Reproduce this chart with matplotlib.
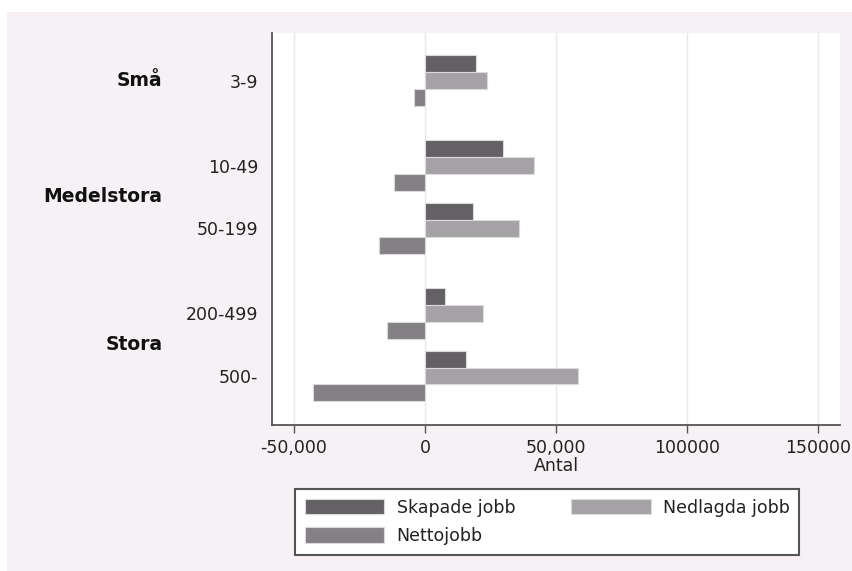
"""Skapade, nedlagda och nettojobb per storleksklass."""

import numpy as np
import matplotlib
matplotlib.use("Agg")
import matplotlib.pyplot as plt
from matplotlib.patches import Rectangle

plt.rcParams["font.family"] = ["DejaVu Sans"]

# ── data ──────────────────────────────────────────────────────────────────────
size_classes = ["3-9", "10-49", "50-199", "200-499", "500-"]
groups       = ["Små", "Medelstora", "Stora"]
group_of     = [0, 1, 1, 2, 2]
skapade      = [19500, 29600, 18200, 7500, 15600]
nedlagda     = [23800, 41600, 35900, 22000, 58400]
netto        = [-4300, -12000, -17700, -14500, -42800]

series_names  = ["Skapade jobb", "Nedlagda jobb", "Nettojobb"]
series_colors = ["#636164", "#a4a2a5", "#838184"]
x_ticks       = [-50000, 0, 50000, 100000, 150000]
x_ticklabels  = ["-50,000", "0", "50,000", "100000", "150000"]

BG = "#f5f1f5"

# category positions: extra space between groups
gap_in, gap_between = 1.0, 1.35
ypos = [0.0]
for i in range(1, len(size_classes)):
    step = gap_in if group_of[i] == group_of[i - 1] else gap_between
    ypos.append(ypos[-1] + step)
ypos = np.array(ypos)

fig = plt.figure(figsize=(8.52, 5.71), dpi=100, facecolor="white")
fig.patches.append(Rectangle((7 / 852, 0), 1, 1 - 12 / 571, transform=fig.transFigure,
                             facecolor=BG, edgecolor="none", zorder=-10))

ax = fig.add_axes([272 / 852, 1 - 425 / 571, (840 - 272) / 852, (425 - 33) / 571])
ax.set_facecolor("white")

h = 0.27
bars = []
for k, (vals, name, col) in enumerate(zip([skapade, nedlagda, netto], series_names, series_colors)):
    b = ax.barh(ypos + (k - 1) * h, vals, height=h, color=col, edgecolor="#dcd9dc",
                linewidth=0.8, label=name, zorder=3)
    bars.append(b)

ax.set_xlim(-58400, 158400)
ax.set_ylim(ypos[-1] + 0.78, ypos[0] - 0.76)

ax.set_xticks(x_ticks)
ax.set_xticklabels(x_ticklabels, fontsize=12.5, color="#222222")
ax.set_yticks(ypos)
ax.set_yticklabels(size_classes, fontsize=12.5, color="#222222")
ax.tick_params(axis="x", length=6, width=1, color="#555555", pad=4)
ax.tick_params(axis="y", length=0, pad=10)
ax.grid(axis="x", color="#ebe7eb", linewidth=1, zorder=0)
ax.set_xlabel("Antal", fontsize=12.5, labelpad=0, color="#222222")

for side in ["top", "right"]:
    ax.spines[side].set_visible(False)
for side in ["left", "bottom"]:
    ax.spines[side].set_color("#555555")
    ax.spines[side].set_linewidth(1.3)

# group labels
for g, name in enumerate(groups):
    members = [ypos[i] for i in range(len(size_classes)) if group_of[i] == g]
    ax.text(-0.193, np.mean(members), name, transform=ax.get_yaxis_transform(),
            ha="right", va="center", fontsize=13.5, fontweight="bold", color="#111111")

# legend: row 1 Skapade, Nedlagda; row 2 Netto
handles = [bars[0], bars[2], bars[1]]
labels = [series_names[0], series_names[2], series_names[1]]
leg = fig.legend(handles, labels, ncol=2, loc="upper left",
                 bbox_to_anchor=(295 / 852, 1 - 489 / 571), frameon=True, fancybox=False,
                 framealpha=1, facecolor="white",
                 fontsize=12.5, handlelength=4.6, handleheight=1.0, handletextpad=0.7,
                 columnspacing=3.2, borderpad=0.55, labelspacing=0.6, borderaxespad=0)
leg.get_frame().set_edgecolor("#555555")
leg.get_frame().set_linewidth(1.5)
for t in leg.get_texts():
    t.set_color("#222222")

fig.savefig("out.png", dpi=100, facecolor=fig.get_facecolor())
